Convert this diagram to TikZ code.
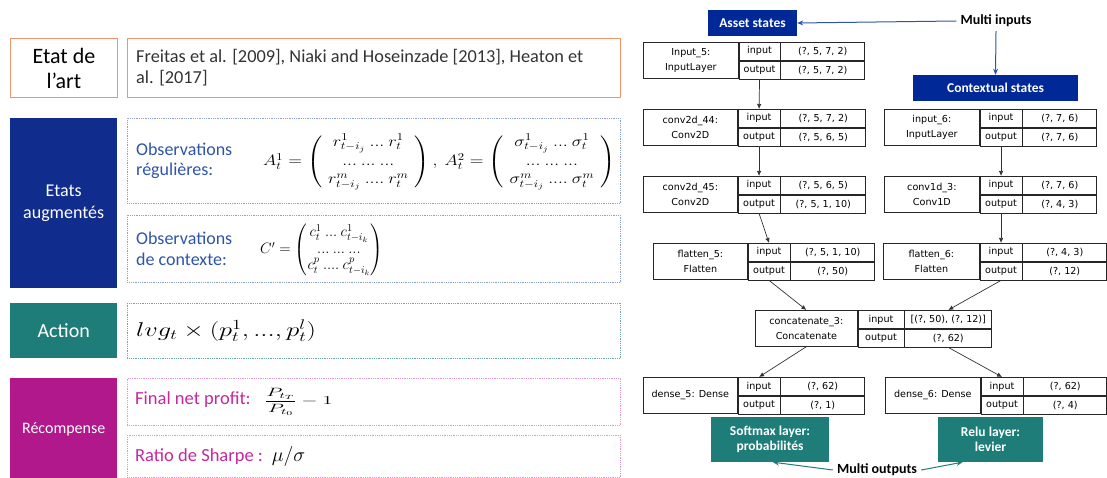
\RequirePackage{fix-cm}
\documentclass[tikz,border=0pt]{standalone}
\usepackage[no-math]{fontspec}
\usepackage{amsmath}
\usepackage{graphicx}
\usepackage{tikz}
\usetikzlibrary{arrows.meta}
\setmainfont{Carlito}
\newfontfamily\kerasfont{DejaVu Sans}
\definecolor{sotaorange}{RGB}{237,150,105}
\definecolor{stateblue}{RGB}{16,44,140}
\definecolor{assetblue}{RGB}{0,40,150}
\definecolor{textblue}{RGB}{46,84,170}
\definecolor{dotblue}{RGB}{140,160,205}
\definecolor{actteal}{RGB}{30,125,120}
\definecolor{dotteal}{RGB}{110,165,165}
\definecolor{rewmagenta}{RGB}{176,24,140}
\definecolor{textmagenta}{RGB}{196,40,160}
\definecolor{dotpink}{RGB}{225,150,205}

\tikzset{
  cell/.style={draw=black!85, line width=0.7pt, inner sep=0pt, anchor=north west,
    align=center, font=\kerasfont\fontsize{9.6}{15}\selectfont},
  flow/.style={draw=black!80, line width=0.7pt, -{Latex[length=5pt,width=4.5pt]}},
  sidebox/.style={anchor=north west, inner sep=0pt, align=center, minimum width=107pt},
  panel/.style={anchor=north west, inner sep=0pt, minimum width=493pt, line width=0.8pt},
  paneltext/.style={anchor=west, inner sep=0pt, align=left},
  statebox/.style={fill=assetblue, text=white, inner sep=0pt,
    font=\bfseries\fontsize{13.5}{15.5}\selectfont},
  outbox/.style={fill=actteal, text=white, inner sep=0pt, align=center,
    font=\bfseries\fontsize{13.5}{15.5}\selectfont},
  multilabel/.style={inner sep=4pt, font=\bfseries\fontsize{14}{16}\selectfont},
}

% one Keras layer as a table: name, top left, label, in shape, out shape, widths
\newcommand{\keraslayer}[8]{%
  \node[cell, minimum width=#6, minimum height=36pt] (#1) at (#2) {#3};
  \node[cell, minimum width=#7, minimum height=18pt] (#1-in) at (#1.north east) {input};
  \node[cell, minimum width=#7, minimum height=18pt] (#1-out) at (#1-in.south west) {output};
  \node[cell, minimum width=#8, minimum height=18pt] (#1-inval) at (#1-in.north east) {#4};
  \node[cell, minimum width=#8, minimum height=18pt] (#1-outval) at (#1-out.north east) {#5};
}

\begin{document}
\begin{tikzpicture}[x=1pt,y=-1pt]
\useasboundingbox (0,0) rectangle (1107,478);

% State of the art
\node[sidebox, draw=sotaorange, line width=0.9pt, minimum height=59pt,
  font=\fontsize{22}{25}\selectfont] (sota) at (10,38) {Etat de\\l’art};
\node[panel, draw=sotaorange, line width=0.9pt, minimum height=59pt] (refs) at (127,38) {};
\node[paneltext, text=black!80, font=\fontsize{18.3}{21}\selectfont] (refstxt) at ([xshift=9pt]refs.west)
  {Freitas et al. [2009], Niaki and Hoseinzade [2013], Heaton et\\al. [2017]};

% Augmented states
\node[sidebox, fill=stateblue, text=white, minimum height=170pt,
  font=\fontsize{18}{22}\selectfont] (etats) at (10,118) {Etats\\augmentés};
\node[panel, draw=dotblue, densely dotted, minimum height=85pt] (obsreg) at (127,118) {};
\node[paneltext, text=textblue, font=\fontsize{18}{20.5}\selectfont] (regtxt) at ([xshift=9pt]obsreg.west)
  {Observations\\régulières:};
\node[anchor=west, inner sep=0pt, font=\fontsize{15}{18}\selectfont] (regmath) at ([xshift=136pt,yshift=-1pt]obsreg.west)
  {\scalebox{1.2}[1]{$A_t^1 = \left(\begin{array}{c} r^1_{t-i_j}\ ...\ r^1_t \\ ...\ ...\ ... \\ r^m_{t-i_j}\ ....\ r^m_t \end{array}\right),\
    A_t^2 = \left(\begin{array}{c} \sigma^1_{t-i_j}\ ...\ \sigma^1_t \\ ...\ ...\ ... \\ \sigma^m_{t-i_j}\ ....\ \sigma^m_t \end{array}\right)$}};

\node[panel, draw=dotblue, densely dotted, minimum height=67pt] (obsctx) at (127,215) {};
\node[paneltext, text=textblue, font=\fontsize{18}{20.5}\selectfont] (ctxtxt) at ([xshift=9pt]obsctx.west)
  {Observations\\de contexte:};
\node[anchor=west, inner sep=0pt, font=\fontsize{15}{16}\selectfont] (ctxmath) at ([xshift=133pt,yshift=-1pt]obsctx.west)
  {$C' = \begin{pmatrix} c_t^1\ ...\ c^1_{t-i_k} \\ ...\ ...\ ... \\ c_t^p\ ....\ c^p_{t-i_k} \end{pmatrix}$};

% Action
\node[sidebox, fill=actteal, text=white, minimum height=55pt,
  font=\fontsize{20}{24}\selectfont] (action) at (10,303) {Action};
\node[panel, draw=dotteal, densely dotted, minimum height=55pt] (actbox) at (127,303) {};
\node[paneltext, font=\fontsize{20}{24}\selectfont] (actmath) at ([xshift=9pt]actbox.west)
  {\scalebox{1.32}[1]{$lvg_t \times (p_t^1, ..., p_t^l)$}};

% Reward
\node[sidebox, fill=rewmagenta, text=white, minimum height=110pt,
  font=\fontsize{16}{19}\selectfont] (reward) at (10,378) {\raisebox{10pt}{Récompense}};
\node[panel, draw=dotpink, densely dotted, minimum height=47pt] (profit) at (127,378) {};
\node[paneltext, font=\fontsize{18.5}{21}\selectfont] (profittxt) at ([xshift=8pt]profit.west)
  {{\color{textmagenta}Final net profit:}\hspace{14pt}{\fontsize{15}{18}\selectfont\scalebox{1.4}[0.8]{$\dfrac{P_{t_T}}{P_{t_0}} - 1$}}};
\node[panel, draw=dotpink, densely dotted, minimum height=42pt] (sharpe) at (127,435) {};
\node[paneltext, font=\fontsize{18.5}{21}\selectfont] (sharpetxt) at ([xshift=8pt]sharpe.west)
  {{\color{textmagenta}Ratio de Sharpe :}\hspace{9pt}{\fontsize{20}{24}\selectfont$\mu/\sigma$}};

% Network inputs
\node[statebox, minimum width=89pt, minimum height=26pt] (asset) at (752.5,23) {Asset states};
\node[multilabel] (minputs) at (996,21) {Multi inputs};
\node[statebox, minimum width=165pt, minimum height=26pt] (ctxstates) at (995.5,88) {Contextual states};
\draw[textblue, line width=1pt, -{Stealth[length=6pt,width=5pt]}] (minputs.west) -- (asset.east);
\draw[textblue, line width=1pt, -{Stealth[length=6pt,width=5pt]}] (minputs.south) -- (ctxstates.north);

% Layers
\keraslayer{in5}{643,42}{Input\_5:\\InputLayer}{(?, 5, 7, 2)}{(?, 5, 7, 2)}{95pt}{41pt}{84pt}
\keraslayer{c44}{643,109}{conv2d\_44:\\Conv2D}{(?, 5, 7, 2)}{(?, 5, 6, 5)}{94pt}{42pt}{85pt}
\keraslayer{c45}{643,176}{conv2d\_45:\\Conv2D}{(?, 5, 6, 5)}{(?, 5, 1, 10)}{94pt}{42pt}{85pt}
\keraslayer{fl5}{653,243}{flatten\_5:\\Flatten}{(?, 5, 1, 10)}{(?, 50)}{94pt}{42pt}{84pt}
\keraslayer{in6}{884,109}{input\_6:\\InputLayer}{(?, 7, 6)}{(?, 7, 6)}{95pt}{42pt}{74pt}
\keraslayer{c13}{884,176}{conv1d\_3:\\Conv1D}{(?, 7, 6)}{(?, 4, 3)}{95pt}{42pt}{74pt}
\keraslayer{fl6}{883,243}{flatten\_6:\\Flatten}{(?, 4, 3)}{(?, 12)}{96pt}{42pt}{84pt}
\keraslayer{cat}{755,310}{concatenate\_3:\\Concatenate}{[(?, 50), (?, 12)]}{(?, 62)}{102pt}{46pt}{87pt}
\keraslayer{d5}{643,377}{dense\_5: Dense}{(?, 62)}{(?, 1)}{94pt}{42pt}{84pt}
\keraslayer{d6}{885,377}{dense\_6: Dense}{(?, 62)}{(?, 4)}{95pt}{42pt}{83pt}

\foreach \a/\b in {in5-out/c44-in, c44-out/c45-in, c45-out/fl5-in, in6-out/c13-in,
    c13-out/fl6-in, fl5-out/cat, fl6-out/cat-inval, cat/d5-in, cat-outval/d6-in}
  \draw[flow] (\a.south) -- (\b.north);

% Network outputs
\node[outbox, minimum width=118pt, minimum height=45pt] (softmax) at (770,439.5) {Softmax layer:\\probabilités};
\node[outbox, minimum width=105pt, minimum height=45pt] (relu) at (990.5,439.5) {Relu layer:\\levier};
\node[multilabel] (moutputs) at (877,470) {Multi outputs};
\draw[actteal, line width=1pt, -{Stealth[length=6pt,width=5pt]}] (moutputs.west) -- ([xshift=3pt]softmax.south);
\draw[actteal, line width=1pt, -{Stealth[length=6pt,width=5pt]}] (moutputs.east) -- ([xshift=-28pt]relu.south);
\end{tikzpicture}
\end{document}
